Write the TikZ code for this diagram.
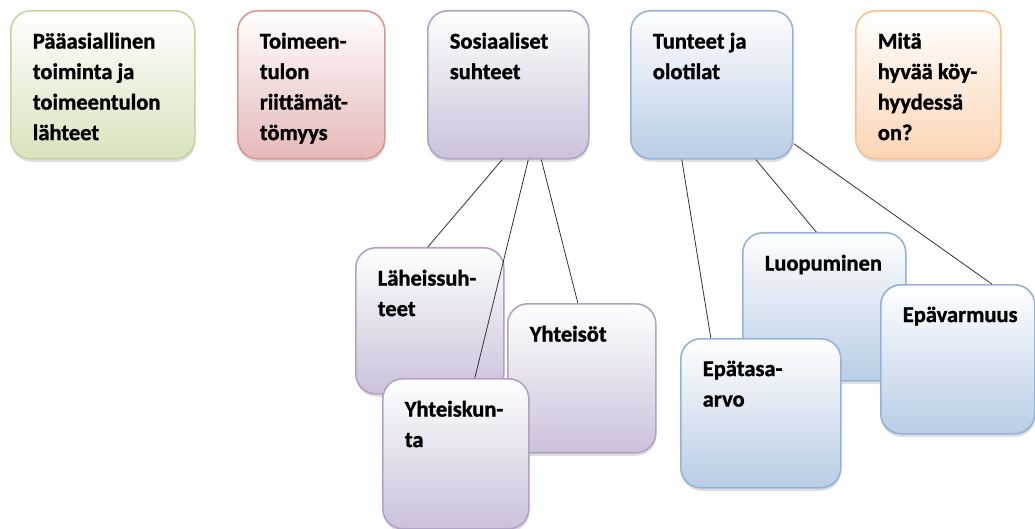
\documentclass[tikz,border=0pt]{standalone}
\usepackage{fontspec}
\setmainfont{Carlito}[BoldFeatures={FakeBold=1.2}]
\usetikzlibrary{shadows}
\definecolor{gB}{RGB}{195,214,155}\definecolor{gF}{RGB}{215,228,189}
\definecolor{rB}{RGB}{217,150,148}\definecolor{rF}{RGB}{230,185,184}
\definecolor{pB}{RGB}{179,162,199}\definecolor{pF}{RGB}{204,193,218}
\definecolor{bB}{RGB}{149,179,215}\definecolor{bF}{RGB}{185,205,229}
\definecolor{oB}{RGB}{250,192,144}\definecolor{oF}{RGB}{252,213,181}
\newcommand\bxt[3]{\parbox[t][#2][t]{#1}{\raggedright\rule{0pt}{14pt}#3}}
\tikzset{
  card/.style={rounded corners=20pt, line width=1.6pt, inner sep=22pt,
    anchor=north west, font=\bfseries\fontsize{22.5}{30.5}\selectfont,
    top color=white, drop shadow={shadow xshift=0.5pt, shadow yshift=-3pt, opacity=0.25}},
  green/.style={card, draw=gB, bottom color=gF},
  red/.style={card, draw=rB, bottom color=rF},
  purple/.style={card, draw=pB, bottom color=pF},
  blue/.style={card, draw=bB, bottom color=bF},
  orange/.style={card, draw=oB, bottom color=oF},
  link/.style={draw=black!80, line width=0.8pt}
}
\begin{document}
\begin{tikzpicture}[x=1pt,y=-1pt]
\useasboundingbox (0,0) rectangle (1035,529);
% top row
\node[green]  (pa)  at (10,10)  {\bxt{140pt}{104pt}{Pääasiallinen\\toiminta ja\\toimeentulon\\lähteet}};
\node[red]    (toi) at (237,10) {\bxt{103pt}{104pt}{Toimeen-\\tulon\\riittämät-\\tömyys}};
\node[purple] (soc) at (427,10) {\bxt{117pt}{104pt}{Sosiaaliset\\suhteet}};
\node[blue]   (tun) at (630,10) {\bxt{118pt}{104pt}{Tunteet ja\\olotilat}};
\node[orange] (mit) at (855,10) {\bxt{101pt}{104pt}{Mitä\\hyvää köy-\\hyydessä\\on?}};
% social children
\node[purple] (lah) at (355,247) {\bxt{104pt}{102pt}{Läheissuh-\\teet}};
\node[purple] (yht) at (507,303) {\bxt{104pt}{105pt}{Yhteisöt}};
\node[purple] (yku) at (382,378) {\bxt{102pt}{106pt}{Yhteiskun-\\ta}};
% feelings children
\node[blue] (luo) at (742,232) {\bxt{119pt}{104pt}{Luopuminen}};
\node[blue] (epv) at (880,284) {\bxt{110pt}{105pt}{Epävarmuus}};
\node[blue] (ept) at (680,338) {\bxt{116pt}{105pt}{Epätasa-\\arvo}};
% connectors
\draw[link] ([xshift=-6pt]soc.south) -- ([xshift=-2pt]lah.north);
\draw[link] ([xshift=20pt]soc.south) -- ([xshift=19pt]yku.north);
\draw[link] ([xshift=33pt]soc.south) -- ([xshift=-4pt]yht.north);
\draw[link] ([xshift=-30pt]tun.south) -- ([xshift=-50pt]ept.north);
\draw[link] ([xshift=44pt]tun.south) -- ([xshift=-8pt]luo.north);
\draw[link] ([yshift=16pt]tun.south east) -- ([xshift=34pt]epv.north);
\end{tikzpicture}
\end{document}
